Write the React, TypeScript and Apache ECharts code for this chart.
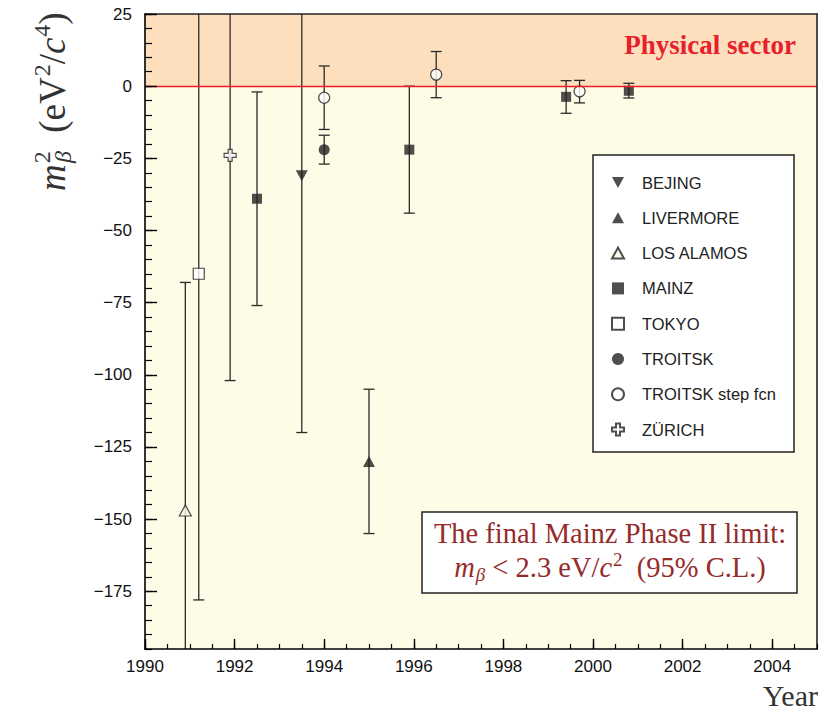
import React, { useEffect, useRef } from 'react';
import * as echarts from 'echarts';

// legend entries (experiments)
const legendNames = ['BEJING', 'LIVERMORE', 'LOS ALAMOS', 'MAINZ', 'TOKYO', 'TROITSK', 'TROITSK step fcn', 'ZÜRICH'];

// each point: [year, m_beta^2, lower end of error bar, upper end of error bar]
const bejing = [[1993.5, -31, -120, 80]];
const livermore = [[1995.0, -130, -155, -105]];
const losAlamos = [[1990.9, -147, -280, -68]];
const mainz = [[1992.5, -39, -76, -2], [1995.9, -22, -44, 0], [1999.4, -3.7, -9.4, 1.9], [2000.8, -1.6, -4.1, 1.0]];
const tokyo = [[1991.2, -65, -178, 80]];
const troitsk = [[1994.0, -22, -27, -17]];
const troitskStep = [[1994.0, -4, -15, 7], [1996.5, 4, -4, 12], [1999.7, -1.8, -5.8, 2.0]];
const zurich = [[1991.9, -24, -102, 80]];

const yTickLabels = [25, 0, -25, -50, -75, -100, -125, -150, -175];
const xTickLabels = [1990, 1992, 1994, 1996, 1998, 2000, 2002, 2004];
const yMin = -195;
const yMax = 25;
const xMin = 1990;
const xMax = 2005;

const INK = '#222';
const DOWN_TRI = 'path://M0,0 L12,0 L6,11 Z';
const UP_TRI = 'path://M6,0 L12,11 L0,11 Z';
const CROSS = 'path://M4,0 L8,0 L8,4 L12,4 L12,8 L8,8 L8,12 L4,12 L4,8 L0,8 L0,4 L4,4 Z';

const filled = { color: INK, borderColor: INK, borderWidth: 0 };
const open = { color: '#ffffff', borderColor: INK, borderWidth: 1.2 };

const markerSeries = [
  { name: 'BEJING', data: bejing, symbol: DOWN_TRI, size: [12, 11], style: filled },
  { name: 'LIVERMORE', data: livermore, symbol: UP_TRI, size: [12, 11], style: filled },
  { name: 'LOS ALAMOS', data: losAlamos, symbol: UP_TRI, size: [12, 11], style: { ...open, color: '#fffbe6' } },
  { name: 'MAINZ', data: mainz, symbol: 'rect', size: 10, style: filled },
  { name: 'TOKYO', data: tokyo, symbol: 'rect', size: 11, style: open },
  { name: 'TROITSK', data: troitsk, symbol: 'circle', size: 11, style: filled },
  { name: 'TROITSK step fcn', data: troitskStep, symbol: 'circle', size: 11, style: open },
  { name: 'ZÜRICH', data: zurich, symbol: CROSS, size: 12, style: open },
];

const errData = [...bejing, ...livermore, ...losAlamos, ...mainz, ...tokyo, ...troitsk, ...troitskStep, ...zurich];

const fmtY = (v: number) => (v < 0 ? '\u2212' + Math.abs(v) : String(v));
const fmtX = (v: number) => String(Math.round(v));

export default function App() {
  const ref = useRef<HTMLDivElement>(null);
  useEffect(() => {
    if (!ref.current) return;
    const chart = echarts.init(ref.current, null, { renderer: 'svg' });
    const serif = 'Liberation Serif';
    const sans = 'Liberation Sans';
    const boxColor = '#962b2b';
    const titleColor = '#333';
    const option: any = {
      animation: false,
      grid: { left: 145, top: 14, right: 10, bottom: 63, show: false },
      xAxis: [
        {
          type: 'value', min: xMin, max: xMax, position: 'bottom', z: 6,
          axisLine: { show: true, onZero: false, lineStyle: { color: '#000', width: 1.6 } },
          axisTick: { show: true, inside: true, length: 10, customValues: xTickLabels, lineStyle: { color: '#000', width: 1.4 } },
          axisLabel: { show: true, customValues: xTickLabels, formatter: fmtX, margin: 9, fontFamily: sans, fontSize: 17, color: '#111' },
          splitLine: { show: false },
        },
        {
          type: 'value', min: xMin, max: xMax, interval: 0.5, position: 'bottom', z: 6,
          axisLine: { show: false, onZero: false },
          axisTick: { show: true, inside: true, length: 5, lineStyle: { color: '#000', width: 1.2 } },
          axisLabel: { show: false },
          splitLine: { show: false },
        },
        {
          type: 'value', min: xMin, max: xMax, position: 'top', z: 6,
          axisLine: { show: true, onZero: false, lineStyle: { color: '#222', width: 1.6 } },
          axisTick: { show: false }, axisLabel: { show: false }, splitLine: { show: false },
        },
      ],
      yAxis: [
        {
          type: 'value', min: yMin, max: yMax, position: 'left', z: 6,
          axisLine: { show: true, onZero: false, lineStyle: { color: '#000', width: 1.6 } },
          axisTick: { show: true, inside: true, length: 12, customValues: yTickLabels, lineStyle: { color: '#000', width: 1.4 } },
          axisLabel: { show: true, customValues: yTickLabels, margin: 13, formatter: fmtY, fontFamily: sans, fontSize: 17, color: '#111' },
          splitLine: { show: false },
        },
        {
          type: 'value', min: yMin, max: yMax, interval: 5, position: 'left', z: 6,
          axisLine: { show: false, onZero: false },
          axisTick: { show: true, inside: true, length: 7, lineStyle: { color: '#000', width: 1.2 } },
          axisLabel: { show: false },
          splitLine: { show: false },
        },
        {
          type: 'value', min: yMin, max: yMax, position: 'right', z: 6,
          axisLine: { show: true, onZero: false, lineStyle: { color: '#222', width: 1.6 } },
          axisTick: { show: false }, axisLabel: { show: false }, splitLine: { show: false },
        },
      ],
      legend: {
        data: legendNames,
        orient: 'vertical',
        left: 611,
        top: 174,
        z: 20,
        padding: 0,
        itemWidth: 12,
        itemHeight: 12,
        itemGap: 18.3,
        selectedMode: false,
        formatter: (name: string) => `{t|${name}}`,
        textStyle: {
          fontFamily: sans, fontSize: 16.5, color: INK, lineHeight: 16,
          rich: { t: { fontFamily: sans, fontSize: 16.5, color: INK, lineHeight: 16, padding: [0, 0, 0, 13] } },
        },
      },
      graphic: {
        elements: [
          {
            type: 'rect', z: 10, shape: { x: 593, y: 155, width: 201, height: 297 },
            style: { fill: '#ffffff', stroke: INK, lineWidth: 1.5 },
          },
          {
            type: 'rect', z: 10, shape: { x: 422, y: 512, width: 375, height: 81 },
            style: { fill: '#ffffff', stroke: INK, lineWidth: 1.5 },
          },
          {
            type: 'text', z: 11, x: 610, y: 533,
            style: { text: 'The final Mainz Phase II limit:', fill: boxColor, font: `28.5px "${serif}"`, align: 'center', verticalAlign: 'middle' },
          },
          {
            type: 'text', z: 11, x: 610, y: 567,
            style: {
              text: '{i|m}{sub|β}{n| < 2.3 eV/}{i|c}{sup|2}{n|  (95% C.L.)}',
              align: 'center', verticalAlign: 'middle', fill: boxColor,
              rich: {
                n: { fontFamily: serif, fontSize: 28.5, fill: boxColor },
                i: { fontFamily: serif, fontSize: 28.5, fontStyle: 'italic', fill: boxColor },
                sub: { fontFamily: serif, fontSize: 19, fontStyle: 'italic', fill: boxColor, padding: [14, 0, 0, 1] },
                sup: { fontFamily: serif, fontSize: 19, fill: boxColor, padding: [0, 0, 15, 1] },
              },
            },
          },
          {
            type: 'text', z: 11, x: 710, y: 45,
            style: { text: 'Physical sector', fill: '#e8202a', font: `bold 27px "${serif}"`, align: 'center', verticalAlign: 'middle' },
          },
          {
            type: 'text', z: 11, x: 818, y: 710,
            style: { text: 'Year', fill: titleColor, font: `30px "${serif}"`, align: 'right', verticalAlign: 'bottom' },
          },
          {
            type: 'group', x: 52, y: 191, rotation: Math.PI / 2, z: 11,
            children: [
              {
                type: 'text', x: 0, y: 0,
                style: {
                  text: '{i|m}{sup|2}{n|  (eV}{sup|2}{n|/}{i|c}{sup|4}{n|)}',
                  align: 'left', verticalAlign: 'middle', fill: titleColor,
                  rich: {
                    n: { fontFamily: serif, fontSize: 37, fill: titleColor },
                    i: { fontFamily: serif, fontSize: 37, fontStyle: 'italic', fill: titleColor },
                    sup: { fontFamily: serif, fontSize: 24, fill: titleColor, padding: [0, 0, 20, 1] },
                  },
                },
              },
              {
                type: 'text', x: 28, y: 11,
                style: { text: 'β', fill: titleColor, font: `italic 24px "${serif}"`, align: 'left', verticalAlign: 'middle' },
              },
            ],
          },
        ],
      },
      series: [
        {
          type: 'custom',
          name: 'errors',
          z: 2,
          silent: true,
          data: errData,
          encode: { x: 0, y: 1 },
          renderItem: (params: any, api: any) => {
            const x = api.value(0);
            const lo = api.value(2);
            const hi = api.value(3);
            const cs = params.coordSys;
            const top = cs.y;
            const bot = cs.y + cs.height;
            const pHi = api.coord([x, hi]);
            const pLo = api.coord([x, lo]);
            const px = pHi[0];
            const y1 = Math.max(pHi[1], top);
            const y2 = Math.min(pLo[1], bot);
            const st = { stroke: '#2a2a2a', lineWidth: 1.3 };
            const children: any[] = [{ type: 'line', shape: { x1: px, y1, x2: px, y2 }, style: st }];
            if (pHi[1] >= top) children.push({ type: 'line', shape: { x1: px - 5.5, y1: pHi[1], x2: px + 5.5, y2: pHi[1] }, style: st });
            if (pLo[1] <= bot) children.push({ type: 'line', shape: { x1: px - 5.5, y1: pLo[1], x2: px + 5.5, y2: pLo[1] }, style: st });
            return { type: 'group', children };
          },
          markArea: {
            silent: true,
            z: 1,
            data: [
              [{ yAxis: 0, itemStyle: { color: '#fddfbe' } }, { yAxis: yMax }],
              [{ yAxis: yMin, itemStyle: { color: '#fefbe6' } }, { yAxis: 0 }],
            ],
          },
          markLine: {
            silent: true,
            symbol: 'none',
            label: { show: false },
            lineStyle: { color: '#ee1c25', width: 1.4, type: 'solid' },
            data: [{ yAxis: 0 }],
          },
        },
        ...markerSeries.map((m) => ({
          type: 'scatter',
          name: m.name,
          z: 3,
          symbol: m.symbol,
          symbolSize: m.size,
          itemStyle: m.style,
          data: m.data.map((d) => [d[0], d[1]]),
        })),
      ],
    };
    chart.setOption(option);
    return () => chart.dispose();
  }, []);
  return <div ref={ref} style={{ position: 'fixed', left: 0, top: 0, width: 827, height: 712, background: '#fff' }} />;
}
